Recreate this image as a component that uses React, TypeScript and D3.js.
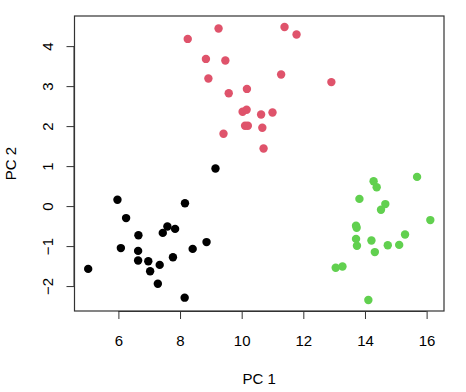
import { useEffect, useRef } from 'react'
import * as d3 from 'd3'

// cluster points (PC 1, PC 2)
const blackX = [9.15, 5.97, 8.16, 6.25, 7.59, 7.44, 7.84, 6.65, 6.08, 6.64, 8.86, 8.41, 7.77, 6.64, 6.97, 7.34, 7.03, 5.02, 7.28, 8.15]
const blackY = [0.94, 0.16, 0.07, -0.30, -0.51, -0.67, -0.57, -0.73, -1.05, -1.12, -0.90, -1.07, -1.28, -1.36, -1.38, -1.47, -1.63, -1.57, -1.94, -2.29]

const redX = [9.25, 8.25, 8.84, 9.47, 8.92, 9.58, 10.17, 10.03, 10.16, 10.63, 11.0, 10.11, 10.2, 10.67, 9.41, 10.71, 11.39, 11.78, 11.28, 12.91]
const redY = [4.44, 4.18, 3.68, 3.64, 3.19, 2.82, 2.93, 2.36, 2.41, 2.29, 2.34, 2.01, 2.01, 1.96, 1.81, 1.44, 4.48, 4.29, 3.29, 3.10]

const greenX = [15.69, 14.28, 14.38, 13.82, 14.66, 14.52, 16.12, 13.71, 13.73, 15.3, 13.71, 14.21, 13.74, 14.74, 15.11, 14.32, 13.05, 13.27, 14.11]
const greenY = [0.73, 0.62, 0.47, 0.18, 0.05, -0.09, -0.35, -0.49, -0.54, -0.71, -0.82, -0.86, -0.99, -0.98, -0.97, -1.15, -1.54, -1.51, -2.35]

const xTicks = [6, 8, 10, 12, 14, 16]
const yTicks = [-2, -1, 0, 1, 2, 3, 4]

const groups = [
  { xs: blackX, ys: blackY, color: '#000000' },
  { xs: redX, ys: redY, color: '#DF536B' },
  { xs: greenX, ys: greenY, color: '#61D04F' },
]

export default function App() {
  const svgRef = useRef<SVGSVGElement>(null)

  useEffect(() => {
    const W = 466
    const H = 392
    const margin = { top: 16, right: 22, bottom: 81, left: 74.5 }
    const iw = W - margin.left - margin.right
    const ih = H - margin.top - margin.bottom

    const svg = d3.select(svgRef.current)
    svg.selectAll('*').remove()

    const g = svg.append('g').attr('transform', `translate(${margin.left},${margin.top})`)

    // R style 4% padding around the data range
    const allX = groups.flatMap(d => d.xs)
    const allY = groups.flatMap(d => d.ys)
    const pad = (lo: number, hi: number) => [lo - (hi - lo) * 0.04, hi + (hi - lo) * 0.04]
    const xScale = d3.scaleLinear().domain(pad(d3.min(allX)!, d3.max(allX)!)).range([0, iw])
    const yScale = d3.scaleLinear().domain(pad(d3.min(allY)!, d3.max(allY)!)).range([ih, 0])

    const font = 'Liberation Sans, Arial, sans-serif'
    const fs = '15px'

    // Axes
    const xAxis = g.append('g')
      .attr('transform', `translate(0,${ih})`)
      .call(d3.axisBottom(xScale).tickValues(xTicks).tickSize(8).tickPadding(16).tickSizeOuter(0))
    xAxis.select('.domain')
      .attr('d', `M${xScale(6)},0.5H${xScale(16)}`)

    const yAxis = g.append('g')
      .call(d3.axisLeft(yScale).tickValues(yTicks).tickSize(8).tickSizeOuter(0))
    yAxis.select('.domain')
      .attr('d', `M-0.5,${yScale(-2)}V${yScale(4)}`)
    // labels parallel to the axis, like R's las = 0
    yAxis.selectAll('.tick text')
      .attr('text-anchor', 'middle')
      .attr('transform', 'rotate(-90)')
      .attr('x', 0).attr('y', -26.5).attr('dy', '0.35em')

    g.selectAll('.tick line, .domain').attr('stroke', '#333')
    g.selectAll('.tick text')
      .attr('fill', '#000')
      .attr('font-family', font)
      .attr('font-size', fs)

    // Box
    g.append('rect')
      .attr('x', 0).attr('y', 0)
      .attr('width', iw).attr('height', ih)
      .attr('fill', 'none')
      .attr('stroke', '#333')
      .attr('stroke-width', 1.2)

    // Points
    groups.forEach(grp => {
      grp.xs.forEach((x, i) => {
        g.append('circle')
          .attr('cx', xScale(x))
          .attr('cy', yScale(grp.ys[i]))
          .attr('r', 4.2)
          .attr('fill', grp.color)
      })
    })

    // Axis titles
    g.append('text')
      .attr('x', iw / 2).attr('y', ih + 73)
      .attr('text-anchor', 'middle')
      .attr('font-family', font)
      .attr('font-size', fs)
      .text('PC 1')

    g.append('text')
      .attr('transform', 'rotate(-90)')
      .attr('x', -ih / 2).attr('y', -59)
      .attr('text-anchor', 'middle')
      .attr('font-family', font)
      .attr('font-size', fs)
      .text('PC 2')
  }, [])

  return (
    <svg
      ref={svgRef}
      width={466}
      height={392}
      style={{ display: 'block', position: 'absolute', left: 0, top: 0, background: '#fff' }}
    />
  )
}
